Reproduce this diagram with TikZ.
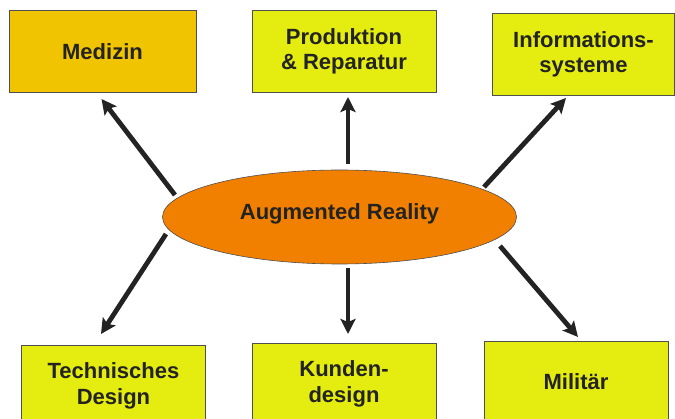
\documentclass[tikz,border=0pt]{standalone}
\usepackage{fontspec}
\setmainfont{Liberation Sans}
\usetikzlibrary{arrows.meta,shapes.geometric}
\definecolor{boxyellow}{HTML}{E4EC10}
\definecolor{boxgold}{HTML}{F0C400}
\definecolor{arorange}{HTML}{F28000}
\definecolor{ink}{HTML}{232323}
\tikzset{
  field/.style={draw=ink!80, line width=0.8pt, fill=boxyellow, inner sep=0pt,
    minimum width=184pt, minimum height=82pt, align=center,
    font=\fontsize{22}{25.5}\selectfont\bfseries, text=ink},
  arrowline/.style={draw=ink, line width=4.8pt,
    -{Stealth[length=15pt,width=15pt,inset=3pt]}}
}
\begin{document}
\begin{tikzpicture}[x=1pt,y=-1pt]
\useasboundingbox (0,0) rectangle (675,419);
\clip (0,0) rectangle (675,419);
% boxes
\node[field, fill=boxgold, minimum width=187pt] (med) at (102.5,51.5) {Medizin};
\node[field] (prod) at (344,51.5) {Produktion\\\& Reparatur};
\node[field, minimum width=182pt] (info) at (583.5,54.5) {Informations-\\systeme};
\node[field] (tech) at (113.5,386) {Technisches\\Design};
\node[field] (kund) at (344,384) {Kunden-\\design};
\node[field] (mil) at (576,382) {Militär};
% ellipse
\node[ellipse, draw=ink!80, line width=0.6pt, fill=arorange, minimum width=354pt,
  minimum height=94pt, inner sep=0pt, font=\fontsize{22}{24}\selectfont\bfseries, text=ink]
  (ar) at (339.5,217) {\raisebox{10pt}{Augmented Reality}};
% arrow ends
\coordinate (s1) at (175,195);  \coordinate (t1) at (101.5,99);
\coordinate (s2) at (348,164);  \coordinate (t2) at (348,97);
\coordinate (s3) at (484,187);  \coordinate (t3) at (566,98);
\coordinate (s4) at (166,234);  \coordinate (t4) at (101,334);
\coordinate (s5) at (348,268);  \coordinate (t5) at (348,334);
\coordinate (s6) at (500,246);  \coordinate (t6) at (578,337);
\draw[arrowline] (s1) -- (t1);
\draw[arrowline] (s2) -- (t2);
\draw[arrowline] (s3) -- (t3);
\draw[arrowline] (s4) -- (t4);
\draw[arrowline] (s5) -- (t5);
\draw[arrowline] (s6) -- (t6);
\end{tikzpicture}
\end{document}
